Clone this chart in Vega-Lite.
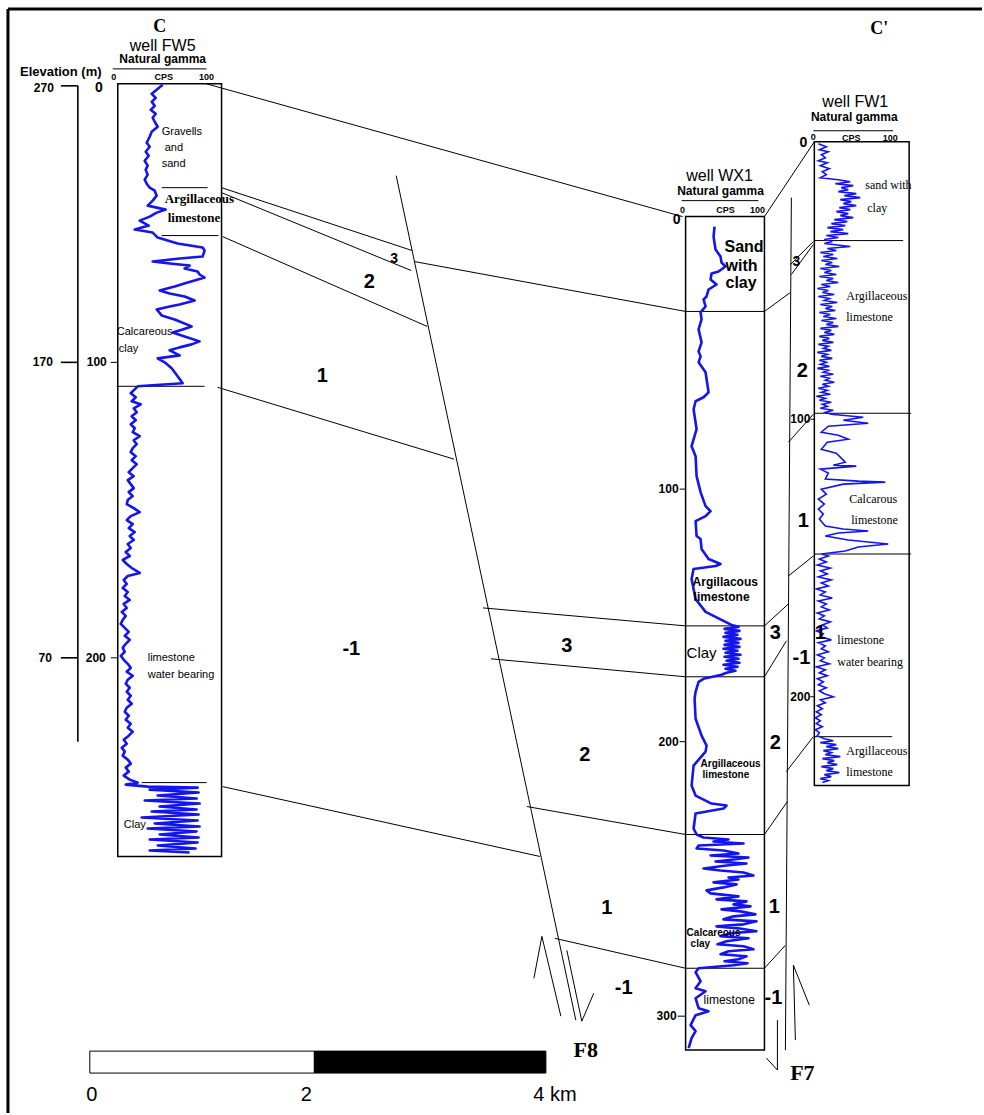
{
"$schema": "https://vega.github.io/schema/vega-lite/v6.json",
"width": 984, "height": 1115, "padding": 0,
"autosize": {"type": "fit", "contains": "padding"},
"background": "white",
"config": {"view": {"stroke": null}},
"datasets": {
"boxes": [
{"well":"FW5","x":118,"y":84,"x2":222,"y2":858},
{"well":"WX1","x":687,"y":217,"x2":766,"y2":1052},
{"well":"FW1","x":816,"y":142,"x2":911,"y2":787}
],
"bar": [
{"part":"0-2 km","x":90,"y":1053,"x2":315,"y2":1075},
{"part":"2-4 km","x":315,"y":1053,"x2":547,"y2":1075}
],
"segs": [
{"g":"frame","x":8,"y":9,"x2":984,"y2":9},
{"g":"frame","x":8,"y":9,"x2":8,"y2":1115},
{"g":"axis","x":78,"y":86,"x2":78,"y2":743},
{"g":"axis","x":61,"y":86,"x2":78,"y2":86},
{"g":"axis","x":61,"y":363,"x2":78,"y2":363},
{"g":"axis","x":61,"y":659,"x2":78,"y2":659},
{"g":"thin","x":111,"y":363,"x2":118,"y2":363},
{"g":"thin","x":111,"y":659,"x2":118,"y2":659},
{"g":"thin","x":681,"y":490,"x2":687,"y2":490},
{"g":"thin","x":681,"y":743,"x2":687,"y2":743},
{"g":"thin","x":679,"y":1018,"x2":687,"y2":1018},
{"g":"thin","x":812,"y":420,"x2":816,"y2":420},
{"g":"thin","x":812,"y":698,"x2":816,"y2":698},
{"g":"thin","x":113,"y":69,"x2":207,"y2":69},
{"g":"thin","x":683,"y":201,"x2":760,"y2":201},
{"g":"thin","x":815,"y":131,"x2":895,"y2":131},
{"g":"thin","x":162,"y":188,"x2":208,"y2":188},
{"g":"thin","x":162,"y":236,"x2":219,"y2":236},
{"g":"thin","x":117,"y":387,"x2":205,"y2":387},
{"g":"thin","x":142,"y":784,"x2":207,"y2":784},
{"g":"thin","x":687,"y":312,"x2":766,"y2":312},
{"g":"thin","x":687,"y":627,"x2":766,"y2":627},
{"g":"thin","x":687,"y":678,"x2":766,"y2":678},
{"g":"thin","x":687,"y":836,"x2":766,"y2":836},
{"g":"thin","x":687,"y":970,"x2":766,"y2":970},
{"g":"thin","x":816,"y":241,"x2":905,"y2":241},
{"g":"thin","x":816,"y":414,"x2":913,"y2":414},
{"g":"thin","x":816,"y":555,"x2":913,"y2":555},
{"g":"thin","x":816,"y":738,"x2":894,"y2":738},
{"g":"thin","x":207,"y":84,"x2":684,"y2":217},
{"g":"thin","x":222,"y":188,"x2":413,"y2":251},
{"g":"thin","x":222,"y":193,"x2":412,"y2":271},
{"g":"thin","x":223,"y":237,"x2":428,"y2":327},
{"g":"thin","x":415,"y":262,"x2":687,"y2":312},
{"g":"thin","x":218,"y":388,"x2":455,"y2":460},
{"g":"thin","x":223,"y":788,"x2":541,"y2":858},
{"g":"thin","x":484,"y":609,"x2":687,"y2":627},
{"g":"thin","x":492,"y":660,"x2":687,"y2":678},
{"g":"thin","x":528,"y":808,"x2":687,"y2":836},
{"g":"thin","x":556,"y":940,"x2":687,"y2":970},
{"g":"thin","x":397,"y":176,"x2":577,"y2":1022},
{"g":"thin","x":543,"y":938,"x2":562,"y2":1018},
{"g":"thin","x":543,"y":938,"x2":535,"y2":980},
{"g":"thin","x":568,"y":952,"x2":583,"y2":1023},
{"g":"thin","x":583,"y":1023,"x2":595,"y2":995},
{"g":"thin","x":766,"y":217,"x2":816,"y2":142},
{"g":"thin","x":766,"y":312,"x2":792,"y2":293},
{"g":"thin","x":792,"y":265,"x2":815,"y2":242},
{"g":"thin","x":793,"y":275,"x2":815,"y2":245},
{"g":"thin","x":815,"y":415,"x2":790,"y2":443},
{"g":"thin","x":815,"y":557,"x2":790,"y2":577},
{"g":"thin","x":790,"y":605,"x2":766,"y2":627},
{"g":"thin","x":788,"y":642,"x2":766,"y2":678},
{"g":"thin","x":815,"y":738,"x2":788,"y2":773},
{"g":"thin","x":789,"y":803,"x2":766,"y2":836},
{"g":"thin","x":787,"y":947,"x2":766,"y2":970},
{"g":"thin","x":793,"y":198,"x2":787,"y2":1052},
{"g":"thin","x":779,"y":1022,"x2":779,"y2":1072},
{"g":"thin","x":779,"y":1072,"x2":768,"y2":1060},
{"g":"thin","x":795,"y":967,"x2":797,"y2":1042},
{"g":"thin","x":795,"y":967,"x2":811,"y2":1007}
],
"logs": [
{"w":"FW5","x":163,"y":85},{"w":"FW5","x":157,"y":90},{"w":"FW5","x":152,"y":94},{"w":"FW5","x":156,"y":98},{"w":"FW5","x":152,"y":102},{"w":"FW5","x":155,"y":106},{"w":"FW5","x":151,"y":110},{"w":"FW5","x":156,"y":114},{"w":"FW5","x":153,"y":118},{"w":"FW5","x":155,"y":122},{"w":"FW5","x":158,"y":127},{"w":"FW5","x":152,"y":132},{"w":"FW5","x":150,"y":137},{"w":"FW5","x":147,"y":143},{"w":"FW5","x":150,"y":147},{"w":"FW5","x":146,"y":152},{"w":"FW5","x":149,"y":156},{"w":"FW5","x":145,"y":161},{"w":"FW5","x":148,"y":166},{"w":"FW5","x":146,"y":170},{"w":"FW5","x":148,"y":175},{"w":"FW5","x":145,"y":180},{"w":"FW5","x":147,"y":184},{"w":"FW5","x":150,"y":188},{"w":"FW5","x":155,"y":191},{"w":"FW5","x":157,"y":196},{"w":"FW5","x":153,"y":201},{"w":"FW5","x":148,"y":206},{"w":"FW5","x":166,"y":210},{"w":"FW5","x":157,"y":213},{"w":"FW5","x":150,"y":217},{"w":"FW5","x":140,"y":221},{"w":"FW5","x":149,"y":226},{"w":"FW5","x":135,"y":230},{"w":"FW5","x":153,"y":233},
{"w":"FW5","x":158,"y":238},{"w":"FW5","x":178,"y":244},{"w":"FW5","x":203,"y":248},{"w":"FW5","x":205,"y":251},{"w":"FW5","x":203,"y":257},{"w":"FW5","x":180,"y":259},{"w":"FW5","x":153,"y":262},{"w":"FW5","x":170,"y":264},{"w":"FW5","x":190,"y":266},{"w":"FW5","x":185,"y":269},{"w":"FW5","x":198,"y":272},{"w":"FW5","x":200,"y":275},{"w":"FW5","x":205,"y":278},{"w":"FW5","x":195,"y":281},{"w":"FW5","x":188,"y":283},{"w":"FW5","x":175,"y":287},{"w":"FW5","x":160,"y":291},{"w":"FW5","x":170,"y":294},{"w":"FW5","x":185,"y":297},{"w":"FW5","x":195,"y":301},{"w":"FW5","x":180,"y":305},{"w":"FW5","x":170,"y":307},{"w":"FW5","x":157,"y":310},{"w":"FW5","x":162,"y":316},{"w":"FW5","x":175,"y":320},{"w":"FW5","x":192,"y":327},{"w":"FW5","x":183,"y":330},{"w":"FW5","x":173,"y":333},{"w":"FW5","x":185,"y":337},{"w":"FW5","x":200,"y":342},{"w":"FW5","x":192,"y":345},{"w":"FW5","x":180,"y":348},{"w":"FW5","x":170,"y":351},{"w":"FW5","x":180,"y":356},{"w":"FW5","x":158,"y":359},{"w":"FW5","x":165,"y":363},{"w":"FW5","x":172,"y":369},{"w":"FW5","x":178,"y":377},{"w":"FW5","x":183,"y":384},{"w":"FW5","x":138,"y":387},
{"w":"FW5","x":135,"y":390},{"w":"FW5","x":131,"y":394},{"w":"FW5","x":136,"y":398},{"w":"FW5","x":132,"y":402},{"w":"FW5","x":141,"y":405},{"w":"FW5","x":134,"y":409},{"w":"FW5","x":137,"y":413},{"w":"FW5","x":132,"y":417},{"w":"FW5","x":136,"y":421},{"w":"FW5","x":131,"y":425},{"w":"FW5","x":135,"y":429},{"w":"FW5","x":133,"y":433},{"w":"FW5","x":140,"y":437},{"w":"FW5","x":134,"y":441},{"w":"FW5","x":137,"y":445},{"w":"FW5","x":133,"y":449},{"w":"FW5","x":131,"y":453},{"w":"FW5","x":136,"y":457},{"w":"FW5","x":132,"y":461},{"w":"FW5","x":137,"y":465},{"w":"FW5","x":133,"y":469},{"w":"FW5","x":129,"y":473},{"w":"FW5","x":134,"y":477},{"w":"FW5","x":128,"y":481},{"w":"FW5","x":131,"y":485},{"w":"FW5","x":134,"y":489},{"w":"FW5","x":129,"y":493},{"w":"FW5","x":133,"y":497},{"w":"FW5","x":128,"y":501},{"w":"FW5","x":127,"y":505},{"w":"FW5","x":134,"y":509},{"w":"FW5","x":140,"y":513},{"w":"FW5","x":131,"y":517},{"w":"FW5","x":127,"y":521},{"w":"FW5","x":133,"y":525},{"w":"FW5","x":129,"y":529},{"w":"FW5","x":135,"y":533},{"w":"FW5","x":130,"y":537},{"w":"FW5","x":134,"y":541},{"w":"FW5","x":128,"y":545},{"w":"FW5","x":131,"y":549},{"w":"FW5","x":126,"y":553},{"w":"FW5","x":130,"y":557},{"w":"FW5","x":123,"y":561},{"w":"FW5","x":127,"y":565},{"w":"FW5","x":132,"y":569},{"w":"FW5","x":140,"y":574},{"w":"FW5","x":128,"y":577},{"w":"FW5","x":124,"y":581},{"w":"FW5","x":127,"y":585},{"w":"FW5","x":123,"y":589},{"w":"FW5","x":128,"y":593},{"w":"FW5","x":125,"y":597},{"w":"FW5","x":130,"y":601},{"w":"FW5","x":124,"y":605},{"w":"FW5","x":127,"y":609},{"w":"FW5","x":122,"y":613},{"w":"FW5","x":126,"y":617},{"w":"FW5","x":123,"y":621},{"w":"FW5","x":121,"y":625},{"w":"FW5","x":125,"y":629},{"w":"FW5","x":129,"y":633},{"w":"FW5","x":125,"y":637},{"w":"FW5","x":130,"y":641},{"w":"FW5","x":126,"y":645},{"w":"FW5","x":123,"y":649},{"w":"FW5","x":125,"y":653},{"w":"FW5","x":121,"y":657},{"w":"FW5","x":124,"y":661},{"w":"FW5","x":128,"y":665},{"w":"FW5","x":131,"y":669},{"w":"FW5","x":127,"y":673},{"w":"FW5","x":133,"y":677},{"w":"FW5","x":128,"y":681},{"w":"FW5","x":126,"y":685},{"w":"FW5","x":130,"y":689},{"w":"FW5","x":127,"y":693},{"w":"FW5","x":131,"y":697},{"w":"FW5","x":128,"y":701},{"w":"FW5","x":132,"y":705},{"w":"FW5","x":127,"y":709},{"w":"FW5","x":125,"y":713},{"w":"FW5","x":129,"y":717},{"w":"FW5","x":126,"y":721},{"w":"FW5","x":131,"y":725},{"w":"FW5","x":128,"y":729},{"w":"FW5","x":133,"y":733},{"w":"FW5","x":129,"y":737},{"w":"FW5","x":124,"y":741},{"w":"FW5","x":127,"y":745},{"w":"FW5","x":122,"y":749},{"w":"FW5","x":125,"y":753},{"w":"FW5","x":123,"y":757},{"w":"FW5","x":128,"y":761},{"w":"FW5","x":131,"y":765},{"w":"FW5","x":126,"y":769},{"w":"FW5","x":129,"y":773},{"w":"FW5","x":124,"y":777},{"w":"FW5","x":130,"y":781},{"w":"FW5","x":138,"y":784},{"w":"FW5","x":126,"y":786},{"w":"FW5","x":148,"y":788},
{"w":"FW5","x":198,"y":789},{"w":"FW5","x":150,"y":791},{"w":"FW5","x":199,"y":794},{"w":"FW5","x":158,"y":797},{"w":"FW5","x":197,"y":800},{"w":"FW5","x":145,"y":802},{"w":"FW5","x":200,"y":805},{"w":"FW5","x":160,"y":808},{"w":"FW5","x":197,"y":811},{"w":"FW5","x":152,"y":813},{"w":"FW5","x":199,"y":816},{"w":"FW5","x":142,"y":819},{"w":"FW5","x":198,"y":822},{"w":"FW5","x":155,"y":825},{"w":"FW5","x":200,"y":828},{"w":"FW5","x":148,"y":830},{"w":"FW5","x":197,"y":833},{"w":"FW5","x":160,"y":836},{"w":"FW5","x":199,"y":839},{"w":"FW5","x":150,"y":841},{"w":"FW5","x":198,"y":844},{"w":"FW5","x":158,"y":847},{"w":"FW5","x":196,"y":850},{"w":"FW5","x":150,"y":852},{"w":"FW5","x":190,"y":854},
{"w":"WX1","x":716,"y":227},{"w":"WX1","x":715,"y":237},{"w":"WX1","x":717,"y":250},{"w":"WX1","x":722,"y":257},{"w":"WX1","x":723,"y":263},{"w":"WX1","x":727,"y":267},{"w":"WX1","x":720,"y":272},{"w":"WX1","x":713,"y":274},{"w":"WX1","x":712,"y":280},{"w":"WX1","x":718,"y":285},{"w":"WX1","x":710,"y":290},{"w":"WX1","x":708,"y":297},{"w":"WX1","x":705,"y":300},{"w":"WX1","x":707,"y":307},{"w":"WX1","x":702,"y":313},{"w":"WX1","x":703,"y":320},{"w":"WX1","x":700,"y":330},{"w":"WX1","x":703,"y":343},{"w":"WX1","x":700,"y":352},{"w":"WX1","x":702,"y":357},{"w":"WX1","x":700,"y":363},{"w":"WX1","x":707,"y":373},{"w":"WX1","x":710,"y":393},{"w":"WX1","x":705,"y":398},{"w":"WX1","x":697,"y":402},{"w":"WX1","x":695,"y":410},{"w":"WX1","x":698,"y":430},{"w":"WX1","x":693,"y":447},{"w":"WX1","x":697,"y":457},{"w":"WX1","x":698,"y":477},{"w":"WX1","x":702,"y":493},{"w":"WX1","x":707,"y":507},{"w":"WX1","x":712,"y":512},{"w":"WX1","x":707,"y":517},{"w":"WX1","x":697,"y":522},{"w":"WX1","x":698,"y":537},{"w":"WX1","x":702,"y":540},{"w":"WX1","x":703,"y":550},{"w":"WX1","x":710,"y":560},{"w":"WX1","x":722,"y":565},{"w":"WX1","x":717,"y":567},{"w":"WX1","x":695,"y":570},{"w":"WX1","x":693,"y":580},{"w":"WX1","x":697,"y":600},{"w":"WX1","x":707,"y":613},{"w":"WX1","x":725,"y":622},{"w":"WX1","x":733,"y":626},
{"w":"WX1","x":740,"y":628},{"w":"WX1","x":726,"y":630},{"w":"WX1","x":741,"y":632},{"w":"WX1","x":727,"y":634},{"w":"WX1","x":739,"y":636},{"w":"WX1","x":725,"y":638},{"w":"WX1","x":742,"y":640},{"w":"WX1","x":727,"y":642},{"w":"WX1","x":740,"y":644},{"w":"WX1","x":726,"y":646},{"w":"WX1","x":741,"y":648},{"w":"WX1","x":725,"y":650},{"w":"WX1","x":739,"y":652},{"w":"WX1","x":727,"y":654},{"w":"WX1","x":742,"y":656},{"w":"WX1","x":726,"y":658},{"w":"WX1","x":740,"y":660},{"w":"WX1","x":728,"y":662},{"w":"WX1","x":741,"y":664},{"w":"WX1","x":725,"y":666},{"w":"WX1","x":739,"y":668},{"w":"WX1","x":727,"y":670},{"w":"WX1","x":737,"y":672},{"w":"WX1","x":728,"y":674},
{"w":"WX1","x":723,"y":676},{"w":"WX1","x":705,"y":680},{"w":"WX1","x":700,"y":683},{"w":"WX1","x":697,"y":693},{"w":"WX1","x":696,"y":700},{"w":"WX1","x":697,"y":720},{"w":"WX1","x":703,"y":737},{"w":"WX1","x":708,"y":747},{"w":"WX1","x":707,"y":753},{"w":"WX1","x":695,"y":767},{"w":"WX1","x":693,"y":787},{"w":"WX1","x":697,"y":797},{"w":"WX1","x":713,"y":805},{"w":"WX1","x":728,"y":807},{"w":"WX1","x":725,"y":810},{"w":"WX1","x":697,"y":815},{"w":"WX1","x":695,"y":830},{"w":"WX1","x":698,"y":836},
{"w":"WX1","x":705,"y":839},{"w":"WX1","x":730,"y":841},{"w":"WX1","x":715,"y":843},{"w":"WX1","x":745,"y":845},{"w":"WX1","x":700,"y":847},{"w":"WX1","x":698,"y":850},{"w":"WX1","x":725,"y":852},{"w":"WX1","x":740,"y":855},{"w":"WX1","x":712,"y":857},{"w":"WX1","x":750,"y":859},{"w":"WX1","x":735,"y":861},{"w":"WX1","x":717,"y":863},{"w":"WX1","x":748,"y":865},{"w":"WX1","x":728,"y":867},{"w":"WX1","x":705,"y":870},{"w":"WX1","x":722,"y":872},{"w":"WX1","x":745,"y":874},{"w":"WX1","x":755,"y":877},{"w":"WX1","x":730,"y":879},{"w":"WX1","x":740,"y":881},{"w":"WX1","x":715,"y":884},{"w":"WX1","x":738,"y":886},{"w":"WX1","x":725,"y":889},{"w":"WX1","x":708,"y":892},{"w":"WX1","x":712,"y":895},{"w":"WX1","x":740,"y":898},{"w":"WX1","x":718,"y":901},{"w":"WX1","x":748,"y":903},{"w":"WX1","x":735,"y":906},{"w":"WX1","x":752,"y":908},{"w":"WX1","x":723,"y":911},{"w":"WX1","x":742,"y":913},{"w":"WX1","x":757,"y":916},{"w":"WX1","x":735,"y":918},{"w":"WX1","x":725,"y":921},{"w":"WX1","x":758,"y":923},{"w":"WX1","x":745,"y":926},{"w":"WX1","x":718,"y":928},{"w":"WX1","x":740,"y":930},{"w":"WX1","x":758,"y":933},{"w":"WX1","x":732,"y":935},{"w":"WX1","x":722,"y":938},{"w":"WX1","x":750,"y":940},{"w":"WX1","x":728,"y":943},{"w":"WX1","x":719,"y":946},{"w":"WX1","x":745,"y":948},{"w":"WX1","x":755,"y":951},{"w":"WX1","x":730,"y":953},{"w":"WX1","x":722,"y":956},{"w":"WX1","x":748,"y":958},{"w":"WX1","x":740,"y":961},{"w":"WX1","x":726,"y":963},{"w":"WX1","x":749,"y":965},{"w":"WX1","x":735,"y":967},{"w":"WX1","x":700,"y":970},
{"w":"WX1","x":697,"y":974},{"w":"WX1","x":702,"y":983},{"w":"WX1","x":697,"y":990},{"w":"WX1","x":707,"y":993},{"w":"WX1","x":697,"y":1000},{"w":"WX1","x":700,"y":1010},{"w":"WX1","x":710,"y":1013},{"w":"WX1","x":697,"y":1017},{"w":"WX1","x":692,"y":1027},{"w":"WX1","x":697,"y":1033},{"w":"WX1","x":693,"y":1040},{"w":"WX1","x":690,"y":1050},
{"w":"FW1","x":820,"y":144},{"w":"FW1","x":828,"y":147},{"w":"FW1","x":821,"y":150},{"w":"FW1","x":830,"y":152},{"w":"FW1","x":823,"y":155},{"w":"FW1","x":827,"y":158},{"w":"FW1","x":820,"y":161},{"w":"FW1","x":829,"y":163},{"w":"FW1","x":822,"y":166},{"w":"FW1","x":831,"y":169},{"w":"FW1","x":824,"y":172},{"w":"FW1","x":828,"y":175},{"w":"FW1","x":822,"y":178},
{"w":"FW1","x":840,"y":180},{"w":"FW1","x":852,"y":182},{"w":"FW1","x":837,"y":184},{"w":"FW1","x":855,"y":186},{"w":"FW1","x":843,"y":188},{"w":"FW1","x":850,"y":190},{"w":"FW1","x":840,"y":192},{"w":"FW1","x":858,"y":194},{"w":"FW1","x":846,"y":196},{"w":"FW1","x":862,"y":198},{"w":"FW1","x":842,"y":200},{"w":"FW1","x":853,"y":202},{"w":"FW1","x":845,"y":204},{"w":"FW1","x":858,"y":206},{"w":"FW1","x":841,"y":208},{"w":"FW1","x":852,"y":210},{"w":"FW1","x":838,"y":212},{"w":"FW1","x":850,"y":214},{"w":"FW1","x":842,"y":216},{"w":"FW1","x":855,"y":218},{"w":"FW1","x":836,"y":220},{"w":"FW1","x":849,"y":222},{"w":"FW1","x":833,"y":224},{"w":"FW1","x":847,"y":226},{"w":"FW1","x":829,"y":228},{"w":"FW1","x":845,"y":230},{"w":"FW1","x":832,"y":232},{"w":"FW1","x":850,"y":234},{"w":"FW1","x":828,"y":236},{"w":"FW1","x":840,"y":238},{"w":"FW1","x":826,"y":240},
{"w":"FW1","x":834,"y":242},{"w":"FW1","x":826,"y":244},{"w":"FW1","x":852,"y":247},{"w":"FW1","x":829,"y":249},{"w":"FW1","x":838,"y":251},{"w":"FW1","x":822,"y":253},{"w":"FW1","x":835,"y":255},{"w":"FW1","x":825,"y":257},{"w":"FW1","x":839,"y":259},{"w":"FW1","x":823,"y":261},{"w":"FW1","x":834,"y":263},{"w":"FW1","x":827,"y":265},{"w":"FW1","x":841,"y":267},{"w":"FW1","x":822,"y":269},{"w":"FW1","x":833,"y":271},{"w":"FW1","x":826,"y":273},{"w":"FW1","x":838,"y":275},{"w":"FW1","x":821,"y":277},{"w":"FW1","x":835,"y":279},{"w":"FW1","x":828,"y":281},{"w":"FW1","x":840,"y":283},{"w":"FW1","x":823,"y":285},{"w":"FW1","x":832,"y":287},{"w":"FW1","x":819,"y":289},{"w":"FW1","x":830,"y":291},{"w":"FW1","x":824,"y":293},{"w":"FW1","x":836,"y":295},{"w":"FW1","x":820,"y":297},{"w":"FW1","x":831,"y":299},{"w":"FW1","x":826,"y":301},{"w":"FW1","x":839,"y":303},{"w":"FW1","x":822,"y":305},{"w":"FW1","x":834,"y":307},{"w":"FW1","x":827,"y":309},{"w":"FW1","x":837,"y":311},{"w":"FW1","x":821,"y":313},{"w":"FW1","x":832,"y":315},{"w":"FW1","x":825,"y":317},{"w":"FW1","x":838,"y":319},{"w":"FW1","x":823,"y":321},{"w":"FW1","x":835,"y":323},{"w":"FW1","x":828,"y":325},{"w":"FW1","x":840,"y":327},{"w":"FW1","x":822,"y":329},{"w":"FW1","x":833,"y":331},{"w":"FW1","x":826,"y":333},{"w":"FW1","x":836,"y":335},{"w":"FW1","x":821,"y":337},{"w":"FW1","x":831,"y":339},{"w":"FW1","x":824,"y":341},{"w":"FW1","x":835,"y":343},{"w":"FW1","x":820,"y":345},{"w":"FW1","x":830,"y":347},{"w":"FW1","x":825,"y":349},{"w":"FW1","x":833,"y":351},{"w":"FW1","x":819,"y":353},{"w":"FW1","x":829,"y":355},{"w":"FW1","x":823,"y":357},{"w":"FW1","x":834,"y":359},{"w":"FW1","x":821,"y":361},{"w":"FW1","x":828,"y":363},{"w":"FW1","x":822,"y":365},{"w":"FW1","x":831,"y":367},{"w":"FW1","x":819,"y":369},{"w":"FW1","x":830,"y":371},{"w":"FW1","x":825,"y":373},{"w":"FW1","x":835,"y":375},{"w":"FW1","x":822,"y":377},{"w":"FW1","x":831,"y":379},{"w":"FW1","x":827,"y":381},{"w":"FW1","x":836,"y":383},{"w":"FW1","x":824,"y":385},{"w":"FW1","x":830,"y":387},{"w":"FW1","x":820,"y":389},{"w":"FW1","x":829,"y":391},{"w":"FW1","x":823,"y":393},{"w":"FW1","x":832,"y":395},{"w":"FW1","x":818,"y":397},{"w":"FW1","x":827,"y":399},{"w":"FW1","x":821,"y":401},{"w":"FW1","x":833,"y":403},{"w":"FW1","x":824,"y":405},{"w":"FW1","x":829,"y":407},{"w":"FW1","x":822,"y":409},{"w":"FW1","x":835,"y":411},{"w":"FW1","x":827,"y":413},
{"w":"FW1","x":833,"y":415},{"w":"FW1","x":865,"y":418},{"w":"FW1","x":845,"y":421},{"w":"FW1","x":870,"y":424},{"w":"FW1","x":830,"y":427},{"w":"FW1","x":823,"y":433},{"w":"FW1","x":840,"y":436},{"w":"FW1","x":850,"y":440},{"w":"FW1","x":829,"y":443},{"w":"FW1","x":823,"y":450},{"w":"FW1","x":838,"y":454},{"w":"FW1","x":847,"y":463},{"w":"FW1","x":835,"y":466},{"w":"FW1","x":858,"y":467},{"w":"FW1","x":822,"y":470},{"w":"FW1","x":830,"y":474},{"w":"FW1","x":827,"y":480},{"w":"FW1","x":860,"y":482},{"w":"FW1","x":887,"y":483},{"w":"FW1","x":845,"y":485},{"w":"FW1","x":823,"y":490},{"w":"FW1","x":828,"y":495},{"w":"FW1","x":820,"y":500},{"w":"FW1","x":826,"y":505},{"w":"FW1","x":820,"y":510},{"w":"FW1","x":825,"y":515},{"w":"FW1","x":821,"y":520},{"w":"FW1","x":827,"y":527},{"w":"FW1","x":845,"y":530},{"w":"FW1","x":870,"y":532},{"w":"FW1","x":840,"y":534},{"w":"FW1","x":827,"y":537},{"w":"FW1","x":850,"y":541},{"w":"FW1","x":890,"y":545},{"w":"FW1","x":860,"y":548},{"w":"FW1","x":847,"y":552},{"w":"FW1","x":823,"y":555},
{"w":"FW1","x":830,"y":557},{"w":"FW1","x":821,"y":560},{"w":"FW1","x":828,"y":563},{"w":"FW1","x":819,"y":566},{"w":"FW1","x":832,"y":569},{"w":"FW1","x":822,"y":572},{"w":"FW1","x":829,"y":575},{"w":"FW1","x":820,"y":578},{"w":"FW1","x":833,"y":581},{"w":"FW1","x":823,"y":584},{"w":"FW1","x":830,"y":587},{"w":"FW1","x":818,"y":590},{"w":"FW1","x":827,"y":593},{"w":"FW1","x":822,"y":596},{"w":"FW1","x":834,"y":599},{"w":"FW1","x":820,"y":602},{"w":"FW1","x":828,"y":605},{"w":"FW1","x":823,"y":608},{"w":"FW1","x":831,"y":611},{"w":"FW1","x":819,"y":614},{"w":"FW1","x":826,"y":617},{"w":"FW1","x":821,"y":620},{"w":"FW1","x":832,"y":623},{"w":"FW1","x":824,"y":626},{"w":"FW1","x":829,"y":629},{"w":"FW1","x":818,"y":632},{"w":"FW1","x":825,"y":635},{"w":"FW1","x":822,"y":638},{"w":"FW1","x":833,"y":641},{"w":"FW1","x":820,"y":644},{"w":"FW1","x":827,"y":647},{"w":"FW1","x":823,"y":650},{"w":"FW1","x":830,"y":653},{"w":"FW1","x":819,"y":656},{"w":"FW1","x":826,"y":659},{"w":"FW1","x":822,"y":662},{"w":"FW1","x":831,"y":665},{"w":"FW1","x":818,"y":668},{"w":"FW1","x":827,"y":671},{"w":"FW1","x":821,"y":674},{"w":"FW1","x":829,"y":677},{"w":"FW1","x":819,"y":680},{"w":"FW1","x":825,"y":683},{"w":"FW1","x":820,"y":686},{"w":"FW1","x":828,"y":689},{"w":"FW1","x":821,"y":692},{"w":"FW1","x":826,"y":695},{"w":"FW1","x":835,"y":698},{"w":"FW1","x":822,"y":701},{"w":"FW1","x":827,"y":704},{"w":"FW1","x":819,"y":707},{"w":"FW1","x":824,"y":710},{"w":"FW1","x":818,"y":713},{"w":"FW1","x":823,"y":716},{"w":"FW1","x":817,"y":719},{"w":"FW1","x":822,"y":722},{"w":"FW1","x":818,"y":725},{"w":"FW1","x":824,"y":728},{"w":"FW1","x":817,"y":731},{"w":"FW1","x":821,"y":734},{"w":"FW1","x":819,"y":737},
{"w":"FW1","x":826,"y":740},{"w":"FW1","x":835,"y":742},{"w":"FW1","x":822,"y":744},{"w":"FW1","x":838,"y":746},{"w":"FW1","x":828,"y":748},{"w":"FW1","x":840,"y":750},{"w":"FW1","x":825,"y":752},{"w":"FW1","x":833,"y":754},{"w":"FW1","x":827,"y":756},{"w":"FW1","x":842,"y":758},{"w":"FW1","x":824,"y":760},{"w":"FW1","x":836,"y":762},{"w":"FW1","x":829,"y":764},{"w":"FW1","x":839,"y":766},{"w":"FW1","x":823,"y":768},{"w":"FW1","x":835,"y":770},{"w":"FW1","x":828,"y":772},{"w":"FW1","x":841,"y":774},{"w":"FW1","x":826,"y":776},{"w":"FW1","x":833,"y":778},{"w":"FW1","x":822,"y":780},{"w":"FW1","x":830,"y":782},{"w":"FW1","x":824,"y":784}
],
"texts": [
{"k":"cc","t":"C","x":160,"y":27},
{"k":"cc","t":"C'","x":881,"y":29},
{"k":"title","t":"well FW5","x":163,"y":46},
{"k":"title","t":"well WX1","x":721,"y":176},
{"k":"title","t":"well FW1","x":857,"y":102},
{"k":"sub","t":"Natural gamma","x":163,"y":59},
{"k":"sub","t":"Natural gamma","x":722,"y":191},
{"k":"sub","t":"Natural gamma","x":856,"y":117},
{"k":"hs","t":"0","x":114,"y":77},
{"k":"hs","t":"CPS","x":164,"y":77},
{"k":"hs","t":"100","x":207,"y":77},
{"k":"hs","t":"0","x":684,"y":210},
{"k":"hs","t":"CPS","x":727,"y":210},
{"k":"hs","t":"100","x":759,"y":210},
{"k":"hs","t":"0","x":815,"y":137},
{"k":"hs","t":"CPS","x":853,"y":138},
{"k":"hs","t":"100","x":892,"y":138},
{"k":"elev","t":"Elevation  (m)","x":20,"y":72},
{"k":"num","t":"270","x":54,"y":88},
{"k":"num","t":"170","x":53,"y":363},
{"k":"num","t":"70","x":52,"y":659},
{"k":"num","t":"100","x":107,"y":363},
{"k":"num","t":"200","x":106,"y":659},
{"k":"num","t":"100","x":680,"y":490},
{"k":"num","t":"200","x":680,"y":743},
{"k":"num","t":"300","x":678,"y":1018},
{"k":"num","t":"100","x":812,"y":420},
{"k":"num","t":"200","x":812,"y":698},
{"k":"num0","t":"0","x":103,"y":88},
{"k":"num0","t":"0","x":682,"y":220},
{"k":"num0","t":"0","x":809,"y":143},
{"k":"s11","t":"Gravells","x":162,"y":132},
{"k":"s11","t":"and","x":165,"y":148},
{"k":"s11","t":"sand","x":162,"y":164},
{"k":"s11","t":"Calcareous","x":117,"y":333},
{"k":"s11","t":"clay","x":119,"y":350},
{"k":"s11","t":"limestone","x":148,"y":659},
{"k":"s11","t":"water bearing","x":148,"y":676},
{"k":"s11","t":"Clay","x":124,"y":826},
{"k":"serifb","t":"Argillaceous","x":165,"y":199},
{"k":"serifb","t":"limestone","x":168,"y":218},
{"k":"s15b","t":"Sand","x":726,"y":247},
{"k":"s15b","t":"with","x":727,"y":266},
{"k":"s15b","t":"clay","x":727,"y":284},
{"k":"s13b","t":"Argillacous","x":694,"y":583},
{"k":"s13b","t":"limestone","x":695,"y":598},
{"k":"s15","t":"Clay","x":688,"y":654},
{"k":"s10b","t":"Argillaceous","x":702,"y":765},
{"k":"s10b","t":"limestone","x":704,"y":776},
{"k":"s10b","t":"Calcareous","x":688,"y":935},
{"k":"s10b","t":"clay","x":692,"y":946},
{"k":"s12","t":"limestone","x":705,"y":1002},
{"k":"serif","t":"sand with","x":867,"y":185},
{"k":"serif","t":"clay","x":869,"y":208},
{"k":"serif","t":"Argillaceous","x":848,"y":297},
{"k":"serif","t":"limestone","x":848,"y":318},
{"k":"serif","t":"Calcarous","x":851,"y":500},
{"k":"serif","t":"limestone","x":853,"y":521},
{"k":"serif","t":"limestone","x":839,"y":641},
{"k":"serif","t":"water bearing","x":839,"y":663},
{"k":"serif","t":"Argillaceous","x":848,"y":752},
{"k":"serif","t":"limestone","x":848,"y":773},
{"k":"zone","t":"1","x":323,"y":377},
{"k":"zone","t":"2","x":370,"y":283},
{"k":"zone","t":"-1","x":352,"y":650},
{"k":"zone","t":"3","x":568,"y":647},
{"k":"zone","t":"2","x":586,"y":756},
{"k":"zone","t":"1","x":608,"y":910},
{"k":"zone","t":"-1","x":625,"y":990},
{"k":"zone","t":"3","x":777,"y":634},
{"k":"zone","t":"2","x":777,"y":744},
{"k":"zone","t":"1","x":776,"y":909},
{"k":"zone","t":"-1","x":775,"y":1000},
{"k":"zone","t":"2","x":804,"y":372},
{"k":"zone","t":"1","x":805,"y":522},
{"k":"zone","t":"-1","x":803,"y":659},
{"k":"zone","t":"1","x":822,"y":634},
{"k":"zone3","t":"3","x":395,"y":259},
{"k":"zone3","t":"3","x":798,"y":262},
{"k":"fault","t":"F8","x":587,"y":1052},
{"k":"fault","t":"F7","x":804,"y":1075},
{"k":"km","t":"0","x":92,"y":1097},
{"k":"km","t":"2","x":307,"y":1097},
{"k":"km","t":"4 km","x":556,"y":1097}
]
},
"encoding": {
"x": {"field": "x", "type": "quantitative", "scale": {"domain": [0, 984], "nice": false, "zero": false}, "axis": null},
"y": {"field": "y", "type": "quantitative", "scale": {"domain": [0, 1115], "nice": false, "zero": false, "reverse": true}, "axis": null}
},
"layer": [
{"data": {"name": "boxes"}, "mark": {"type": "rect", "fill": "white", "stroke": "black", "strokeWidth": 1.5},
 "encoding": {"x2": {"field": "x2"}, "y2": {"field": "y2"}}},
{"data": {"name": "bar"}, "mark": {"type": "rect", "stroke": "black", "strokeWidth": 1},
 "encoding": {"x2": {"field": "x2"}, "y2": {"field": "y2"},
  "fill": {"field": "part", "type": "nominal", "scale": {"domain": ["0-2 km", "2-4 km"], "range": ["white", "black"]}, "legend": null}}},
{"data": {"name": "segs"}, "transform": [{"filter": "datum.g === 'frame'"}], "mark": {"type": "rule", "stroke": "black", "strokeWidth": 3},
 "encoding": {"x2": {"field": "x2"}, "y2": {"field": "y2"}}},
{"data": {"name": "segs"}, "transform": [{"filter": "datum.g === 'axis'"}], "mark": {"type": "rule", "stroke": "black", "strokeWidth": 1.6},
 "encoding": {"x2": {"field": "x2"}, "y2": {"field": "y2"}}},
{"data": {"name": "segs"}, "transform": [{"filter": "datum.g === 'thin'"}], "mark": {"type": "rule", "stroke": "black", "strokeWidth": 1},
 "encoding": {"x2": {"field": "x2"}, "y2": {"field": "y2"}}},
{"data": {"name": "logs"}, "transform": [{"filter": "datum.w !== 'FW1'"}], "mark": {"type": "line", "stroke": "#1414ee", "strokeWidth": 2.6, "strokeJoin": "round"},
 "encoding": {"detail": {"field": "w"}, "order": {"field": "y", "type": "quantitative"}}},
{"data": {"name": "logs"}, "transform": [{"filter": "datum.w === 'FW1'"}], "mark": {"type": "line", "stroke": "#1414ee", "strokeWidth": 1.6},
 "encoding": {"detail": {"field": "w"}, "order": {"field": "y", "type": "quantitative"}}},
{"data": {"name": "texts"}, "transform": [{"filter": "datum.k === 'cc'"}], "mark": {"type": "text", "font": "Liberation Serif", "fontSize": 18, "fontWeight": "bold", "align": "center", "baseline": "middle", "color": "black"}, "encoding": {"text": {"field": "t"}}},
{"data": {"name": "texts"}, "transform": [{"filter": "datum.k === 'title'"}], "mark": {"type": "text", "font": "Liberation Sans", "fontSize": 16, "align": "center", "baseline": "middle", "color": "black"}, "encoding": {"text": {"field": "t"}}},
{"data": {"name": "texts"}, "transform": [{"filter": "datum.k === 'sub'"}], "mark": {"type": "text", "font": "Liberation Sans Narrow, Liberation Sans", "fontSize": 12, "fontWeight": "bold", "align": "center", "baseline": "middle", "color": "black"}, "encoding": {"text": {"field": "t"}}},
{"data": {"name": "texts"}, "transform": [{"filter": "datum.k === 'hs'"}], "mark": {"type": "text", "font": "Liberation Sans Narrow, Liberation Sans", "fontSize": 9, "fontWeight": "bold", "align": "center", "baseline": "middle", "color": "black"}, "encoding": {"text": {"field": "t"}}},
{"data": {"name": "texts"}, "transform": [{"filter": "datum.k === 'elev'"}], "mark": {"type": "text", "font": "Liberation Sans", "fontSize": 13, "fontWeight": "bold", "align": "left", "baseline": "middle", "color": "black"}, "encoding": {"text": {"field": "t"}}},
{"data": {"name": "texts"}, "transform": [{"filter": "datum.k === 'num'"}], "mark": {"type": "text", "font": "Liberation Sans Narrow, Liberation Sans", "fontSize": 12, "fontWeight": "bold", "align": "right", "baseline": "middle", "color": "black"}, "encoding": {"text": {"field": "t"}}},
{"data": {"name": "texts"}, "transform": [{"filter": "datum.k === 'num0'"}], "mark": {"type": "text", "font": "Liberation Sans Narrow, Liberation Sans", "fontSize": 14, "fontWeight": "bold", "align": "right", "baseline": "middle", "color": "black"}, "encoding": {"text": {"field": "t"}}},
{"data": {"name": "texts"}, "transform": [{"filter": "datum.k === 's11'"}], "mark": {"type": "text", "font": "Liberation Sans", "fontSize": 11, "align": "left", "baseline": "middle", "color": "black"}, "encoding": {"text": {"field": "t"}}},
{"data": {"name": "texts"}, "transform": [{"filter": "datum.k === 'serifb'"}], "mark": {"type": "text", "font": "Liberation Serif", "fontSize": 13, "fontWeight": "bold", "align": "left", "baseline": "middle", "color": "black"}, "encoding": {"text": {"field": "t"}}},
{"data": {"name": "texts"}, "transform": [{"filter": "datum.k === 's15b'"}], "mark": {"type": "text", "font": "Liberation Sans", "fontSize": 16, "fontWeight": "bold", "align": "left", "baseline": "middle", "color": "black"}, "encoding": {"text": {"field": "t"}}},
{"data": {"name": "texts"}, "transform": [{"filter": "datum.k === 's13b'"}], "mark": {"type": "text", "font": "Liberation Sans", "fontSize": 12, "fontWeight": "bold", "align": "left", "baseline": "middle", "color": "black"}, "encoding": {"text": {"field": "t"}}},
{"data": {"name": "texts"}, "transform": [{"filter": "datum.k === 's15'"}], "mark": {"type": "text", "font": "Liberation Sans", "fontSize": 15, "align": "left", "baseline": "middle", "color": "black"}, "encoding": {"text": {"field": "t"}}},
{"data": {"name": "texts"}, "transform": [{"filter": "datum.k === 's10b'"}], "mark": {"type": "text", "font": "Liberation Sans", "fontSize": 10, "fontWeight": "bold", "align": "left", "baseline": "middle", "color": "black"}, "encoding": {"text": {"field": "t"}}},
{"data": {"name": "texts"}, "transform": [{"filter": "datum.k === 's12'"}], "mark": {"type": "text", "font": "Liberation Sans", "fontSize": 12, "align": "left", "baseline": "middle", "color": "black"}, "encoding": {"text": {"field": "t"}}},
{"data": {"name": "texts"}, "transform": [{"filter": "datum.k === 'serif'"}], "mark": {"type": "text", "font": "Liberation Serif", "fontSize": 12, "align": "left", "baseline": "middle", "color": "black"}, "encoding": {"text": {"field": "t"}}},
{"data": {"name": "texts"}, "transform": [{"filter": "datum.k === 'zone'"}], "mark": {"type": "text", "font": "Liberation Sans", "fontSize": 20, "fontWeight": "bold", "align": "center", "baseline": "middle", "color": "black"}, "encoding": {"text": {"field": "t"}}},
{"data": {"name": "texts"}, "transform": [{"filter": "datum.k === 'zone3'"}], "mark": {"type": "text", "font": "Liberation Sans", "fontSize": 14, "fontWeight": "bold", "align": "center", "baseline": "middle", "color": "black"}, "encoding": {"text": {"field": "t"}}},
{"data": {"name": "texts"}, "transform": [{"filter": "datum.k === 'fault'"}], "mark": {"type": "text", "font": "Liberation Serif", "fontSize": 22, "fontWeight": "bold", "align": "center", "baseline": "middle", "color": "black"}, "encoding": {"text": {"field": "t"}}},
{"data": {"name": "texts"}, "transform": [{"filter": "datum.k === 'km'"}], "mark": {"type": "text", "font": "Liberation Sans", "fontSize": 20, "align": "center", "baseline": "middle", "color": "black"}, "encoding": {"text": {"field": "t"}}}
]
}
